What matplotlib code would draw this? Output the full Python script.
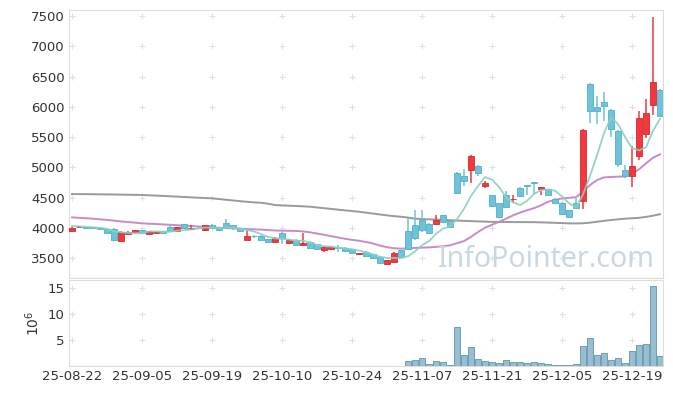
import matplotlib
matplotlib.use("Agg")
import matplotlib.pyplot as plt
import numpy as np
import pandas as pd

# trading days shown (index 0..84), labels every 10 sessions
tick_idx = [0, 10, 20, 30, 40, 50, 60, 70, 80]
tick_labels = ["25-08-22", "25-09-05", "25-09-19", "25-10-10", "25-10-24",
               "25-11-07", "25-11-21", "25-12-05", "25-12-19"]

opens = [3955, 4005, 4005, 4003, 3990, 3975, 3975, 3787, 3905, 3928,
         3960, 3902, 3912, 3945, 4020, 3952, 4055, 3978, 4000, 3965,
         4052, 4012, 4085, 4040, 3990, 3803, 3868, 3866, 3815, 3767,
         3915, 3752, 3800, 3722, 3770, 3730, 3640, 3650, 3675, 3670,
         3648, 3565, 3604, 3566, 3522, 3406, 3436, 3632, 3948, 4045,
         4135, 4062, 4070, 4205, 4110, 4910, 4855, 4955, 5020, 4695,
         4540, 4404, 4540, 4468, 4652, 4706, 4750, 4640, 4635, 4480,
         4413, 4290, 4404, 4447, 6376, 5996, 6078, 5946, 5599, 4954,
         4860, 5190, 5550, 6029, 6277]
highs = [4015, 4030, 4020, 4015, 4000, 3985, 3990, 3940, 3945, 3970,
         3968, 3950, 3950, 3955, 4050, 4015, 4060, 4040, 4010, 4045,
         4060, 4020, 4150, 4050, 4000, 3963, 3875, 3875, 3822, 3840,
         3925, 3808, 3808, 3915, 3778, 3738, 3692, 3692, 3720, 3678,
         3655, 3582, 3612, 3572, 3530, 3472, 3605, 3640, 4155, 4300,
         4300, 4075, 4210, 4215, 4120, 4920, 4966, 5195, 5030, 4770,
         4550, 4415, 4600, 4545, 4680, 4710, 4755, 4680, 4645, 4490,
         4420, 4300, 4508, 5625, 6390, 6177, 6250, 5960, 5610, 5037,
         5351, 5930, 6128, 7478, 6290]
lows = [3940, 3990, 3985, 3985, 3970, 3915, 3790, 3780, 3895, 3915,
        3915, 3895, 3900, 3890, 3940, 3945, 3985, 3970, 3985, 3955,
        3990, 3962, 4000, 3965, 3948, 3798, 3830, 3795, 3755, 3760,
        3731, 3745, 3712, 3718, 3665, 3640, 3604, 3642, 3604, 3608,
        3570, 3560, 3530, 3492, 3410, 3400, 3430, 3515, 3630, 3800,
        3930, 3910, 4045, 4080, 3995, 4560, 4690, 4734, 4860, 4650,
        4350, 4165, 4340, 4410, 4518, 4550, 4560, 4540, 4530, 4405,
        4220, 4170, 4310, 4310, 5726, 5710, 5760, 5505, 5000, 4830,
        4679, 5120, 5480, 5863, 5840]
closes = [4003, 4015, 4000, 3998, 3985, 3922, 3797, 3935, 3935, 3960,
          3922, 3945, 3938, 3915, 3948, 4010, 3990, 3992, 3992, 4040,
          3995, 3968, 4010, 4005, 3955, 3868, 3862, 3800, 3762, 3832,
          3828, 3800, 3720, 3753, 3672, 3648, 3687, 3687, 3665, 3615,
          3578, 3575, 3538, 3500, 3418, 3467, 3585, 3522, 3650, 3830,
          3970, 3918, 4128, 4090, 4005, 4570, 4778, 5190, 4910, 4745,
          4360, 4172, 4348, 4478, 4525, 4698, 4742, 4670, 4540, 4413,
          4227, 4180, 4320, 5616, 5935, 5935, 6018, 5637, 5054, 4860,
          5025, 5819, 5896, 6415, 5847]
# closes of the four sessions before the window (for the 5-day average)
prior_closes = [4040, 4030, 4050, 4020]

ma20 = [4172, 4165, 4158, 4150, 4140, 4130, 4118, 4105, 4095, 4085,
        4073, 4068, 4062, 4056, 4050, 4043, 4036, 4030, 4022, 4015,
        4007, 4000, 3995, 3990, 3985, 3980, 3975, 3970, 3962, 3955,
        3952, 3950, 3948, 3940, 3925, 3905, 3885, 3862, 3840, 3818,
        3800, 3786, 3765, 3740, 3705, 3680, 3662, 3655, 3660, 3668,
        3672, 3676, 3685, 3695, 3710, 3745, 3780, 3850, 3930, 4000,
        4050, 4100, 4150, 4205, 4250, 4290, 4325, 4370, 4430, 4460,
        4486, 4495, 4505, 4596, 4706, 4789, 4833, 4840, 4845, 4848,
        4888, 4966, 5065, 5158, 5214]
ma120 = [4558, 4557, 4556, 4555, 4553, 4552, 4550, 4548, 4546, 4544,
         4542, 4537, 4532, 4527, 4521, 4515, 4509, 4503, 4497, 4492,
         4487, 4475, 4463, 4452, 4440, 4430, 4420, 4414, 4398, 4376,
         4370, 4365, 4360, 4355, 4348, 4336, 4324, 4312, 4300, 4288,
         4277, 4265, 4250, 4235, 4220, 4205, 4192, 4183, 4168, 4150,
         4145, 4140, 4135, 4130, 4125, 4120, 4114, 4110, 4106, 4102,
         4098, 4095, 4095, 4094, 4094, 4093, 4093, 4090, 4086, 4082,
         4078, 4073, 4072, 4075, 4085, 4100, 4115, 4128, 4140, 4150,
         4158, 4165, 4180, 4200, 4225]

# volume in millions of shares
volume = [0.02, 0.01, 0.01, 0.02, 0.01, 0.02, 0.03, 0.03, 0.02, 0.01,
          0.01, 0.01, 0.02, 0.01, 0.02, 0.01, 0.02, 0.01, 0.01, 0.02,
          0.01, 0.01, 0.02, 0.01, 0.01, 0.02, 0.01, 0.01, 0.01, 0.01,
          0.02, 0.01, 0.01, 0.02, 0.01, 0.01, 0.01, 0.01, 0.01, 0.01,
          0.01, 0.01, 0.01, 0.01, 0.02, 0.02, 0.03, 0.02, 0.94, 1.13,
          1.6, 0.3, 0.9, 0.7, 0.1, 7.5, 2.2, 3.7, 1.3, 0.94,
          0.7, 0.5, 1.13, 0.75, 0.75, 0.57, 0.75, 0.57, 0.38, 0.19,
          0.19, 0.19, 0.38, 3.8, 5.3, 2.1, 2.45, 1.13, 1.5, 0.57,
          2.8, 4.0, 4.3, 15.3, 1.9]

UP = "#f0383e"
UP_EDGE = "#d42a30"
DOWN = "#6cc3da"
DOWN_EDGE = "#55aec6"

idx = np.arange(len(closes))
o = np.array(opens)
c = np.array(closes)
h = np.array(highs)
l = np.array(lows)
ma5 = pd.Series(prior_closes + closes).rolling(5).mean().to_numpy()[len(prior_closes):]

fig = plt.figure(figsize=(6.73, 3.96), dpi=100)
ax = fig.add_axes([69 / 673, 1 - 278 / 396, 594 / 673, 268 / 396])
axv = fig.add_axes([69 / 673, 1 - 366 / 396, 594 / 673, 86 / 396], sharex=ax)

# moving averages under the candles
ax.plot(idx, ma120, color="#9a9a9a", lw=1.4, zorder=1)
ax.plot(idx, ma20, color="#c98ac6", lw=1.4, zorder=1)

up = c >= o
colors = np.where(up, UP, DOWN)
edges = np.where(up, UP_EDGE, DOWN_EDGE)
ax.vlines(idx, l, h, colors=colors, lw=1.1, zorder=2)
body_low = np.minimum(o, c)
body_h = np.maximum(np.abs(c - o), 8)
ax.bar(idx, body_h, bottom=body_low, width=0.72, color=colors,
       edgecolor=edges, linewidth=0.6, zorder=3)

ax.plot(idx, ma5, color="#8ad0c1", lw=1.3, alpha=0.9, zorder=4)

ax.text(0.803, 0.041, "InfoPointer.com", transform=ax.transAxes,
        ha="center", va="baseline", fontsize=20.5, family="Noto Sans",
        color="#c8d8e3", zorder=5)

ax.set_xlim(-0.43, 84.43)
ax.set_ylim(3170, 7600)
yt = [3500, 4000, 4500, 5000, 5500, 6000, 6500, 7000, 7500]
ax.set_yticks(yt)
ax.set_yticklabels([str(v) for v in yt])

axv.bar(idx, volume, width=0.92, color="#97bfd1", edgecolor="#6f9db3",
        linewidth=0.7, zorder=3)
axv.set_ylim(0, 16.5)
vt = [5, 10, 15]
axv.set_yticks(vt)
axv.set_ylabel(r"$10^6$", fontsize=10, color="#333333", labelpad=4)
axv.set_xticks(tick_idx)
axv.set_xticklabels(tick_labels)

# "+" marks at grid crossings
gx, gy = np.meshgrid(tick_idx, yt)
ax.scatter(gx.ravel(), gy.ravel(), marker="+", s=18, color="#e0e0e0",
           linewidths=0.8, zorder=0)
gx, gy = np.meshgrid(tick_idx, vt)
axv.scatter(gx.ravel(), gy.ravel(), marker="+", s=18, color="#e0e0e0",
            linewidths=0.8, zorder=0)

for a in (ax, axv):
    for s in a.spines.values():
        s.set_color("#dddddd")
        s.set_linewidth(0.8)
    a.tick_params(length=0, labelsize=9.5, colors="#333333", pad=3)
ax.tick_params(labelbottom=False)

fig.savefig("out.png", dpi=100, facecolor="white")
